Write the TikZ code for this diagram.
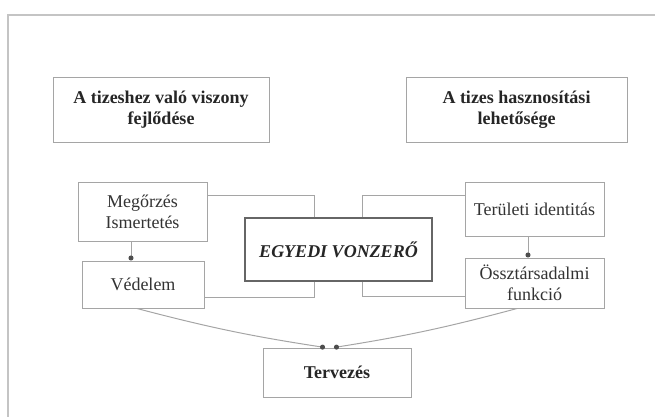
\documentclass[tikz,border=0pt]{standalone}
\usepackage{fontspec}
\setmainfont{Liberation Serif}
\usetikzlibrary{arrows.meta}
\definecolor{boxline}{HTML}{A5A5A5}
\definecolor{frameline}{HTML}{C4C4C4}
\definecolor{txt}{HTML}{333333}
\tikzset{
  box/.style={draw=boxline, line width=1pt, fill=white, inner sep=0pt, align=center,
    text=txt, font=\fontsize{18}{21}\selectfont},
  boldbox/.style={box, font=\fontsize{18}{21}\selectfont\bfseries, text=black!85},
  keybox/.style={box, draw=black!60, line width=1.6pt, font=\fontsize{18}{21}\selectfont\bfseries\itshape, text=black!85},
  conn/.style={draw=boxline, line width=1pt},
  dotarrow/.style={conn, -{Circle[length=5pt,color=black!70]}},
}
\begin{document}
\begin{tikzpicture}[x=1pt,y=-1pt]
\useasboundingbox (0,0) rectangle (655,417);
% frame
\coordinate (f1) at (8,417);
\coordinate (f2) at (8,15);
\coordinate (f3) at (655,15);
\draw[frameline, line width=2pt] (f1) -- (f2) -- (f3);
% bracket corners
\coordinate (lb1) at (314,195);
\coordinate (lb2) at (314,297);
\coordinate (rb1) at (362,195);
\coordinate (rb2) at (362,296);
% boxes
\node[boldbox, minimum width=216pt, minimum height=64pt] (tl) at (161,110) {A tizeshez való viszony\\fejlődése};
\node[boldbox, minimum width=221pt, minimum height=64pt] (tr) at (516.5,110) {A tizes hasznosítási\\lehetősége};
\node[box, minimum width=129pt, minimum height=59pt] (meg) at (142.5,211.5) {Megőrzés\\Ismertetés};
\node[box, minimum width=122pt, minimum height=47pt] (ved) at (143,284.5) {Védelem};
\node[box, minimum width=139pt, minimum height=54pt] (ter) at (534.5,209) {Területi identitás};
\node[box, minimum width=139pt, minimum height=50pt] (ossz) at (534.5,283) {Össztársadalmi\\funkció};
\node[boldbox, minimum width=148pt, minimum height=49pt] (terv) at (337,372.5) {Tervezés};
% brackets (behind central box)
\draw[conn] (meg.east |- lb1) -- (lb1) -- (lb2) -- (ved.east |- lb2);
\draw[conn] (ter.west |- rb1) -- (rb1) -- (rb2) -- (ossz.west |- rb2);
\node[keybox, minimum width=187pt, minimum height=63pt] (egy) at (338.5,249.5) {EGYEDI VONZERŐ};
% arrows
\draw[dotarrow] ([xshift=-11.5pt]meg.south) -- ([xshift=-11.5pt]meg.south |- ved.north);
\draw[dotarrow] ([xshift=-6.5pt]ter.south) -- ([xshift=-6.5pt]ter.south |- ossz.north);
\draw[dotarrow] ([xshift=-6pt]ved.south) to[bend right=3] ([xshift=-12pt]terv.north);
\draw[dotarrow] ([xshift=-17.5pt]ossz.south) to[bend left=3] ([xshift=-3pt]terv.north);
\end{tikzpicture}
\end{document}
